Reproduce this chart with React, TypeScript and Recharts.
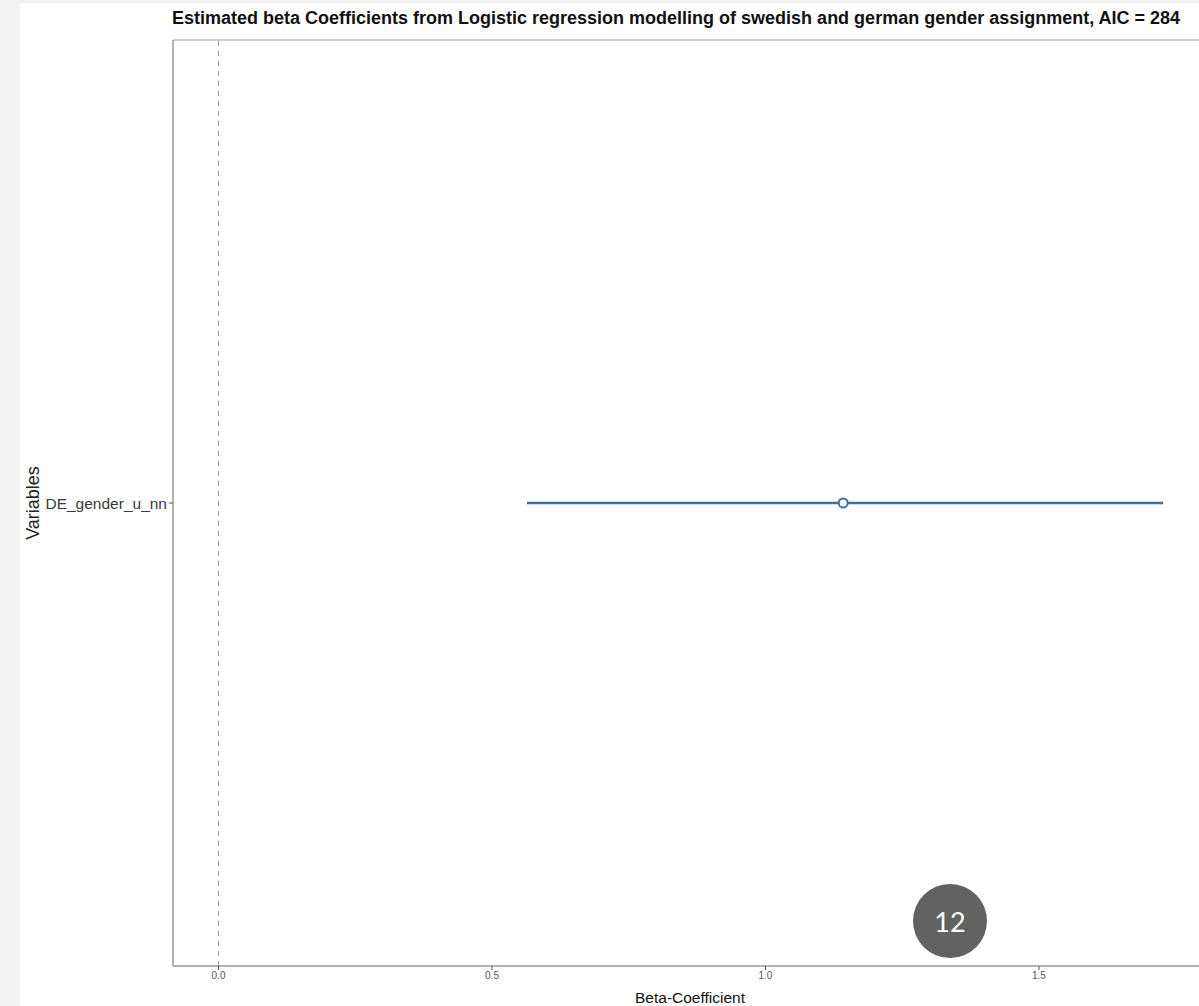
import {
  ReferenceLine,
  Scatter,
  ScatterChart,
  XAxis,
  YAxis,
} from "recharts";

// coefficient estimates and 95% intervals, one per variable
const variables = ["DE_gender_u_nn"];
const estimates = [1.142];
const ciLow = [0.564];
const ciHigh = [1.727];
const xTicks = [0, 0.5, 1.0, 1.5];

const X_MIN = -0.0832;
const X_MAX = 1.7962;
const BLUE = "#3c6fa8";
const FONT = "'Liberation Sans', Arial, Helvetica, sans-serif";

const pointData = variables.map((name, i) => ({ name, x: estimates[i], y: i + 1 }));
const intervalData = variables.map((name, i) => [
  { name, x: ciLow[i], y: i + 1 },
  { name, x: ciHigh[i], y: i + 1 },
]);

function OpenDot(props: { cx?: number; cy?: number }) {
  const { cx = 0, cy = 0 } = props;
  return <circle cx={cx} cy={cy} r={4.5} fill="#fff" stroke={BLUE} strokeWidth={2} />;
}

const NoShape = () => <g />;

export default function App() {
  return (
    <div
      style={{
        position: "absolute",
        left: 0,
        top: 0,
        width: 1199,
        height: 1006,
        overflow: "hidden",
        background: "#f2f2f2",
        fontFamily: FONT,
      }}
    >
      <div
        style={{ position: "absolute", left: 20, top: 3, width: 1179, height: 1003, background: "#fff" }}
      />
      <div
        style={{
          position: "absolute",
          left: 172,
          top: 8,
          fontSize: 18,
          fontWeight: "bold",
          color: "#111",
          whiteSpace: "nowrap",
        }}
      >
        Estimated beta Coefficients from Logistic regression modelling of swedish and german gender assignment, AIC = 284
      </div>
      <div style={{ position: "absolute", left: 0, top: 0 }}>
        <ScatterChart
          width={1210}
          height={1006}
          margin={{ top: 40, right: 9, bottom: 10, left: 33 }}
        >
          <XAxis
            type="number"
            dataKey="x"
            domain={[X_MIN, X_MAX]}
            ticks={xTicks}
            allowDataOverflow
            tickFormatter={(v: number) => v.toFixed(1)}
            tick={{ fontSize: 10, fill: "#555", fontFamily: FONT }}
            tickSize={4}
            tickLine={{ stroke: "#555" }}
            axisLine={{ stroke: "#666" }}
            height={30}
          />
          <YAxis
            type="number"
            dataKey="y"
            domain={[0, variables.length + 1]}
            ticks={variables.map((_, i) => i + 1)}
            tickFormatter={(v: number) => variables[v - 1] ?? ""}
            tick={{ fontSize: 15.5, fill: "#3a3a3a", fontFamily: FONT }}
            tickSize={4}
            tickLine={{ stroke: "#555" }}
            axisLine={{ stroke: "#666" }}
            width={140}
          />
          <ReferenceLine y={variables.length + 1} stroke="#a5a5a5" />
          <ReferenceLine x={0} stroke="#999" strokeDasharray="5 5" />
          {intervalData.map((seg, i) => (
            <Scatter
              key={i}
              data={seg}
              line={{ stroke: BLUE, strokeWidth: 2.5 }}
              shape={NoShape}
              isAnimationActive={false}
            />
          ))}
          <Scatter data={pointData} shape={<OpenDot />} isAnimationActive={false} />
        </ScatterChart>
      </div>
      <div
        style={{
          position: "absolute",
          left: 33,
          top: 503,
          transform: "translate(-50%, -50%) rotate(-90deg)",
          fontSize: 18,
          color: "#222",
          whiteSpace: "nowrap",
        }}
      >
        Variables
      </div>
      <div
        style={{
          position: "absolute",
          left: 690,
          top: 998,
          transform: "translate(-50%, -50%)",
          fontSize: 15.5,
          color: "#111",
          whiteSpace: "nowrap",
        }}
      >
        Beta-Coefficient
      </div>
      <div
        style={{
          position: "absolute",
          left: 913,
          top: 884,
          width: 74,
          height: 74,
          borderRadius: "50%",
          background: "#626262",
          color: "#fff",
          fontFamily: "Lato, 'Open Sans', sans-serif",
          fontSize: 27,
          display: "flex",
          alignItems: "center",
          justifyContent: "center",
        }}
      >
        12
      </div>
    </div>
  );
}
